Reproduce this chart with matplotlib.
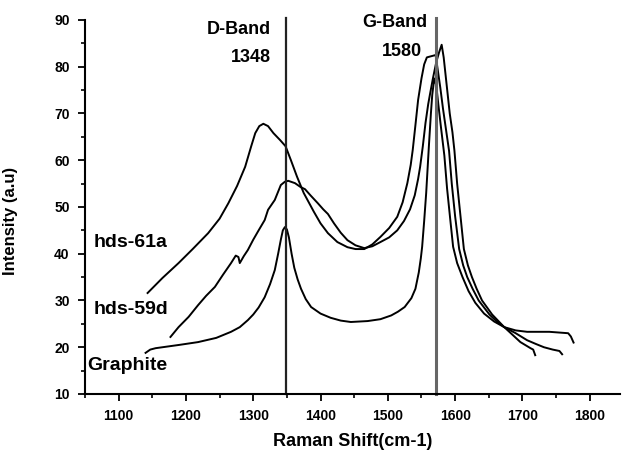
import matplotlib.pyplot as plt
from matplotlib.ticker import MultipleLocator

plt.rcParams['font.family'] = ['Liberation Sans', 'DejaVu Sans']
plt.rcParams['font.weight'] = 'bold'

# Raman spectra (shift in cm-1, intensity in a.u.)
graphite_x = [1140, 1147, 1155, 1190, 1218, 1245, 1267, 1280, 1292, 1300, 1308, 1317,
              1325, 1332, 1337, 1341, 1344, 1347, 1350, 1353, 1357, 1361, 1366, 1371,
              1378, 1386, 1400, 1415, 1430, 1445, 1470, 1489, 1505, 1515, 1525, 1535,
              1541, 1546, 1549, 1551, 1554, 1557, 1559, 1561, 1564, 1566, 1569, 1572,
              1575, 1579, 1584, 1588, 1593, 1597, 1603, 1611, 1620, 1630, 1643, 1658,
              1673, 1690, 1707, 1740, 1768, 1772, 1776]
graphite_y = [18.8, 19.5, 19.8, 20.5, 21.1, 22.0, 23.3, 24.3, 25.8, 27.0, 28.5, 30.7,
              33.5, 36.5, 40.0, 43.0, 45.0, 45.7, 45.2, 43.5, 40.0, 37.0, 34.5, 32.5,
              30.3, 28.6, 27.2, 26.3, 25.7, 25.4, 25.6, 26.0, 26.8, 27.6, 28.6, 30.5,
              32.5, 36.0, 39.0, 41.5, 47.0, 53.0, 58.0, 63.0, 70.0, 74.0, 77.5, 76.0,
              72.0, 67.0, 61.0, 54.0, 47.0, 41.5, 38.0, 35.0, 32.0, 29.5, 27.2, 25.5,
              24.3, 23.6, 23.3, 23.3, 23.0, 22.3, 21.0]

hds59d_x = [1177, 1189, 1204, 1218, 1230, 1243, 1255, 1267, 1274, 1278, 1280, 1286,
            1292, 1300, 1308, 1317, 1322, 1332, 1341, 1347, 1352, 1362, 1370, 1377,
            1385, 1396, 1404, 1411, 1420, 1430, 1440, 1452, 1465, 1477, 1489, 1502,
            1514, 1524, 1533, 1540, 1545, 1548, 1552, 1556, 1560, 1563, 1567, 1572,
            1576, 1580, 1583, 1586, 1589, 1592, 1596, 1599, 1603, 1608, 1613, 1619,
            1625, 1632, 1640, 1655, 1673, 1690, 1707, 1720, 1732, 1745, 1755, 1759]
hds59d_y = [22.2, 24.3, 26.5, 29.0, 31.0, 32.9, 35.5, 38.0, 39.6, 39.3, 38.0, 39.5,
            40.8, 43.0, 45.0, 47.2, 49.4, 51.5, 54.7, 55.4, 55.6, 55.1, 54.3, 53.8,
            52.5, 50.8, 49.5, 48.5, 46.5, 44.5, 42.9, 41.8, 41.2, 41.6, 42.5, 43.5,
            45.0, 47.0, 49.5, 52.5, 56.0, 58.6, 63.0, 68.0, 72.0, 74.4, 77.5, 81.0,
            83.0, 84.7, 82.0, 78.0, 74.0, 70.0, 66.0, 62.0, 55.0, 48.0, 41.0, 37.5,
            35.0, 32.5, 30.0, 27.0, 24.3, 23.0, 21.5, 20.7, 20.0, 19.5, 19.2, 18.5]

hds61a_x = [1143, 1165, 1189, 1210, 1233, 1250, 1263, 1276, 1288, 1297, 1303, 1309,
            1315, 1322, 1330, 1340, 1348, 1356, 1365, 1375, 1390, 1400, 1411, 1425,
            1440, 1452, 1465, 1477, 1489, 1502, 1514, 1522, 1529, 1534, 1537, 1541,
            1545, 1550, 1554, 1558, 1571, 1574, 1578, 1582, 1586, 1591, 1595, 1600,
            1606, 1612, 1618, 1626, 1635, 1651, 1662, 1673, 1685, 1697, 1712, 1716,
            1719]
hds61a_y = [31.6, 34.8, 38.0, 41.0, 44.4, 47.5, 50.8, 54.5, 58.6, 63.0, 65.8, 67.3,
            67.8, 67.3, 65.8, 64.3, 63.0, 60.0, 56.5, 53.0, 49.0, 46.5, 44.4, 42.5,
            41.4, 41.0, 41.0, 42.0, 43.6, 45.5, 47.9, 51.0, 55.1, 59.0, 62.2, 67.5,
            72.9, 77.5, 80.5, 82.0, 82.5, 79.5, 75.5, 71.0, 67.0, 62.0, 55.0, 48.0,
            41.0, 37.5, 35.0, 32.5, 30.0, 27.0, 25.5, 24.3, 22.7, 21.1, 19.8, 19.5,
            18.3]

d_band = 1348
g_band = 1572

fig = plt.figure(figsize=(6.25, 4.51), dpi=100)
ax = fig.add_axes([0.136, 0.1264, 0.856, 0.8293])

ax.plot(hds61a_x, hds61a_y, '-', color='black', linewidth=1.4)
ax.plot(hds59d_x, hds59d_y, '-', color='black', linewidth=1.4)
ax.plot(graphite_x, graphite_y, '-', color='black', linewidth=1.4)

ax.plot([d_band, d_band], [10, 90.5], '-', color='#222222', linewidth=1.6, clip_on=False)
ax.plot([g_band, g_band], [10, 90.5], '-', color='#666666', linewidth=2.2, clip_on=False)

ax.text(1326, 87.9, 'D-Band', ha='right', va='center', fontsize=13, fontweight='bold')
ax.text(1326, 81.9, '1348', ha='right', va='center', fontsize=13, fontweight='bold')
ax.text(1559, 89.4, 'G-Band', ha='right', va='center', fontsize=13, fontweight='bold')
ax.text(1551, 83.2, '1580', ha='right', va='center', fontsize=13, fontweight='bold')
ax.text(1063, 42.3, 'hds-61a', ha='left', va='center', fontsize=14, fontweight='bold')
ax.text(1063, 28.0, 'hds-59d', ha='left', va='center', fontsize=14, fontweight='bold')
ax.text(1054, 16.2, 'Graphite', ha='left', va='center', fontsize=14, fontweight='bold')

ax.set_xlim(1050, 1845)
ax.set_ylim(10, 90)
ax.xaxis.set_major_locator(MultipleLocator(100))
ax.xaxis.set_minor_locator(MultipleLocator(50))
ax.yaxis.set_major_locator(MultipleLocator(10))
ax.yaxis.set_minor_locator(MultipleLocator(5))

for s in ['top', 'right']:
    ax.spines[s].set_visible(False)
for s in ['left', 'bottom']:
    ax.spines[s].set_linewidth(1.5)

ax.tick_params(which='major', direction='out', length=5, width=1.3, labelsize=10, pad=6)
ax.tick_params(which='minor', direction='out', length=3, width=1.2)

ax.set_xlabel('Raman Shift(cm-1)', fontsize=13, fontweight='bold', labelpad=7)
ax.set_ylabel('Intensity (a.u)', fontsize=12, fontweight='bold')
ax.yaxis.set_label_coords(-0.125, 0.463)

fig.savefig('out.png', dpi=100)
